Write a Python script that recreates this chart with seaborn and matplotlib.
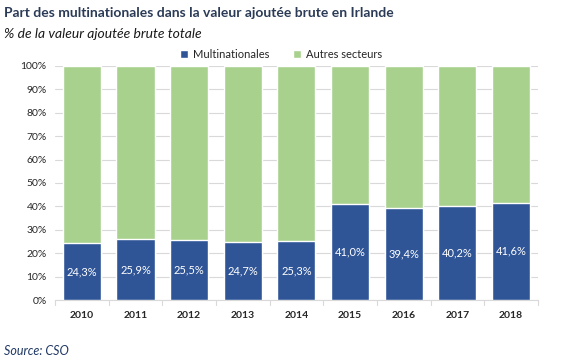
import pandas as pd
import matplotlib.pyplot as plt
import seaborn as sns

# values
years = ['2010', '2011', '2012', '2013', '2014', '2015', '2016', '2017', '2018']
multinationales = [24.3, 25.9, 25.5, 24.7, 25.3, 41.0, 39.4, 40.2, 41.6]
total = [100] * len(years)

df = pd.DataFrame({'annee': years, 'multi': multinationales, 'total': total})

sns.set_style('white')
plt.rcParams['font.family'] = ['Lato', 'DejaVu Sans']

blue = '#2F5597'
green = '#A9D18E'

fig = plt.figure(figsize=(5.62, 3.62), dpi=100)
ax = fig.add_axes([0.098, 0.171, 0.859, 0.647])

sns.barplot(x='annee', y='total', data=df, color=green, width=0.71,
            saturation=1, ax=ax, label='Autres secteurs', zorder=2)
sns.barplot(x='annee', y='multi', data=df, color=blue, width=0.71,
            saturation=1, ax=ax, label='Multinationales', zorder=3)

# labels in the middle of the blue bars
for i, v in enumerate(multinationales):
    ax.text(i, v / 2, f'{v:.1f}%'.replace('.', ','), ha='center', va='center',
            color='white', fontsize=8, zorder=4)

ax.set_ylim(0, 100)
ax.set_xlim(-0.5, len(years) - 0.5)
ax.set_yticks(range(0, 101, 10))
ax.set_yticklabels([f'{t}%' for t in range(0, 101, 10)])
ax.yaxis.grid(True, color='#D9D9D9', linewidth=0.8, zorder=0)
ax.set_axisbelow(True)
ax.set_xlabel('')
ax.set_ylabel('')
for s in ['top', 'right', 'left']:
    ax.spines[s].set_visible(False)
ax.spines['bottom'].set_color('#D9D9D9')
ax.tick_params(axis='y', length=0, labelsize=7.5, labelcolor='#262626', pad=6)
ax.tick_params(axis='x', length=0, labelsize=7.5, labelcolor='#262626', pad=8)
for lab in ax.get_xticklabels():
    lab.set_fontweight('bold')

# tick marks between categories
for b in range(len(years) + 1):
    ax.plot([b - 0.5, b - 0.5], [0, -2.2], color='#D9D9D9', lw=0.8,
            clip_on=False, zorder=1)

handles, labels = ax.get_legend_handles_labels()
if ax.get_legend() is not None:
    ax.get_legend().remove()
order = [labels.index('Multinationales'), labels.index('Autres secteurs')]
fig.legend([handles[i] for i in order], [labels[i] for i in order],
           loc='center', bbox_to_anchor=(0.5, 0.85), ncol=2, frameon=False,
           fontsize=8, handlelength=0.7, handleheight=0.7, columnspacing=2.2,
           handletextpad=0.4)

fig.text(0.007, 0.965, 'Part des multinationales dans la valeur ajoutée brute en Irlande',
         fontsize=10, fontweight='bold', color='#2B3B57', va='center')
fig.text(0.007, 0.905, '% de la valeur ajoutée brute totale',
         fontsize=10, style='italic', color='#1a1a1a', va='center')
fig.text(0.007, 0.03, 'Source: CSO', fontsize=9, style='italic',
         color='#1F3864', va='center')

fig.savefig('out.png', dpi=100)
